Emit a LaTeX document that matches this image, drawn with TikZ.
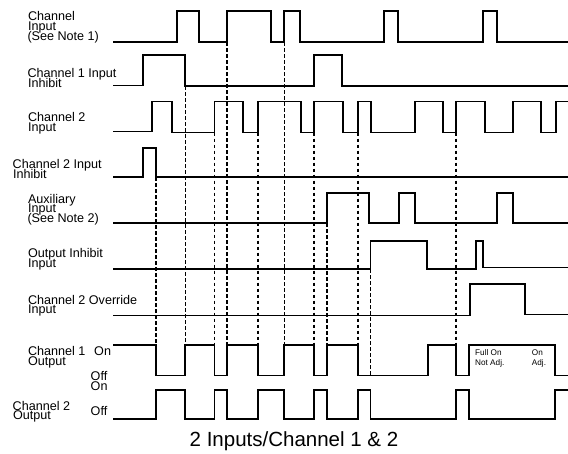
\documentclass[tikz,border=0pt]{standalone}
\usepackage{fontspec}
\setmainfont{Liberation Sans}
\begin{document}
\begin{tikzpicture}[x=1pt,y=-1pt,
  sig/.style={line width=1.7pt,line join=miter,black},
  guide/.style={line width=1.6pt,dash pattern=on 3.5pt off 2.5pt,black},
  lbl/.style={anchor=base west,inner sep=0pt,font=\fontsize{12.6}{12}\selectfont},
  small/.style={anchor=base west,inner sep=0pt,font=\fontsize{8.2}{9}\selectfont},
  captext/.style={anchor=base west,inner sep=0pt,font=\fontsize{20.5}{22}\selectfont}]
\fill[white] (0,0) rectangle (568,453);
\useasboundingbox (0,0) rectangle (568,453);

% dashed guides
\draw[guide] (156,177) -- (156,345);
\draw[guide] (185.3,86) -- (185.3,345);
\draw[guide] (214.5,132.5) -- (214.5,345);
\draw[guide] (226.7,42) -- (226.7,345);
\draw[guide] (257.7,132.5) -- (257.7,345);
\draw[guide] (284.3,42) -- (284.3,345);
\draw[guide] (314,132.5) -- (314,345);
\draw[guide] (326.7,223) -- (326.7,345);
\draw[guide] (358,132.5) -- (358,345);
\draw[guide] (370.6,269) -- (370.6,375.5);
\draw[guide] (456,132.5) -- (456,345);

% Channel Input
\draw[sig] (113,42) -- (177,42) -- (177,11) -- (199,11) -- (199,42) -- (226.7,42) -- (226.7,11) -- (271,11) -- (271,42) -- (284.3,42) -- (284.3,11) -- (300,11) -- (300,42) -- (384,42) -- (384,11) -- (398,11) -- (398,42) -- (483,42) -- (483,11) -- (497,11) -- (497,42) -- (568,42);
% Channel 1 Input Inhibit
\draw[sig] (113,85.5) -- (143,85.5) -- (143,55) -- (185.3,55) -- (185.3,86.3) -- (314,86.3) -- (314,55) -- (341.7,55) -- (341.7,86.3) -- (568,86.3);
% Channel 2 Input
\draw[sig] (113,131.5) -- (152,131.5) -- (152,101.5) -- (172,101.5) -- (172,132.5) -- (214.5,132.5) -- (214.5,101.5) -- (243.3,101.5) -- (243.3,132.5) -- (257.7,132.5) -- (257.7,101.5) -- (300.7,101.5) -- (300.7,132.5) -- (314,132.5) -- (314,101.5) -- (343.3,101.5) -- (343.3,132.5) -- (358,132.5) -- (358,101.5) -- (370.7,101.5) -- (370.7,132.5) -- (415,132.5) -- (415,101.5) -- (443.3,101.5) -- (443.3,132.5) -- (456,132.5) -- (456,101.5) -- (485,101.5) -- (485,132.5) -- (512.7,132.5) -- (512.7,101.5) -- (540.7,101.5) -- (540.7,132.5) -- (556,132.5) -- (556,101.5) -- (568,101.5);
% Channel 2 Input Inhibit
\draw[sig] (113,177) -- (142.7,177) -- (142.7,148) -- (156,148) -- (156,177) -- (568,177);
% Auxiliary Input
\draw[sig] (113,223) -- (326.7,223) -- (326.7,193.3) -- (369.3,193.3) -- (369.3,223) -- (398.7,223) -- (398.7,193.3) -- (415,193.3) -- (415,223) -- (496.7,223) -- (496.7,193.3) -- (512.7,193.3) -- (512.7,223) -- (568,223);
% Output Inhibit Input
\draw[sig] (113,269) -- (370.6,269) -- (370.6,240.7) -- (426.7,240.7) -- (426.7,269) -- (476,269) -- (476,240.7) -- (482.7,240.7) -- (482.7,267.5) -- (568,267.5);
% Channel 2 Override Input
\draw[sig] (113,315.5) -- (470,315.5) -- (470,284.3) -- (525,284.3) -- (525,314.5) -- (568,314.5);
% Channel 1 Output
\draw[sig] (113,345) -- (156,345) -- (156,375.5) -- (185.3,375.5) -- (185.3,345) -- (214.5,345) -- (214.5,375.5) -- (226.7,375.5) -- (226.7,345) -- (257.7,345) -- (257.7,375.5) -- (284.3,375.5) -- (284.3,345) -- (314,345) -- (314,375.5) -- (326.7,375.5) -- (326.7,345) -- (358,345) -- (358,375.5) -- (428.3,375.5) -- (428.3,345) -- (456,345) -- (456,375.5) -- (469.3,375.5) -- (469.3,345) -- (555,345) -- (555,375.5) -- (568,375.5);
% Channel 2 Output
\draw[sig] (113,419.3) -- (156,419.3) -- (156,390) -- (185.3,390) -- (185.3,419.3) -- (214.5,419.3) -- (214.5,390) -- (227,390) -- (227,419.3) -- (257.7,419.3) -- (257.7,390) -- (284.3,390) -- (284.3,419.3) -- (314,419.3) -- (314,390) -- (327,390) -- (327,419.3) -- (358,419.3) -- (358,390) -- (370.6,390) -- (370.6,419.3) -- (456,419.3) -- (456,390) -- (469.3,390) -- (469.3,419.3) -- (555,419.3) -- (555,390) -- (568,390);

% labels
\node[lbl] (l1a) at (27.8,20) {Channel};
\node[lbl] (l1b) at (27.8,30) {Input};
\node[lbl] (l1c) at (27.3,40.5) {(See Note 1)};
\node[lbl] (l2a) at (27.3,77.3) {Channel 1 Input};
\node[lbl] (l2b) at (27.8,87.3) {Inhibit};
\node[lbl] (l3a) at (27.8,121.5) {Channel 2};
\node[lbl] (l3b) at (27.8,131) {Input};
\node[lbl] (l4a) at (12.5,168.3) {Channel 2 Input};
\node[lbl] (l4b) at (12.8,178) {Inhibit};
\node[lbl] (l5a) at (27.8,203.3) {Auxiliary};
\node[lbl] (l5b) at (27.8,212.5) {Input};
\node[lbl] (l5c) at (27.3,222) {(See Note 2)};
\node[lbl] (l6a) at (27.8,257.3) {Output Inhibit};
\node[lbl] (l6b) at (27.8,267) {Input};
\node[lbl] (l7a) at (27.8,304) {Channel 2 Override};
\node[lbl] (l7b) at (27.8,313.3) {Input};
\node[lbl] (l8a) at (27.8,355) {Channel 1};
\node[lbl] (l8b) at (27.8,365) {Output};
\node[lbl] (l8on) at (94,355) {On};
\node[lbl] (l8off) at (90.5,380) {Off};
\node[lbl] (l9on) at (90.5,390) {On};
\node[lbl] (l9a) at (12.5,410) {Channel 2};
\node[lbl] (l9b) at (12.8,419.5) {Output};
\node[lbl] (l9off) at (90.5,415) {Off};
\node[small] (fa) at (475,355) {Full On};
\node[small] (fb) at (475,365) {Not Adj.};
\node[small] (oa) at (531.7,355) {On};
\node[small] (ob) at (531.7,365) {Adj.};
\node[captext] (caption) at (189.5,446.7) {2 Inputs/Channel 1 \& 2};
\end{tikzpicture}
\end{document}
